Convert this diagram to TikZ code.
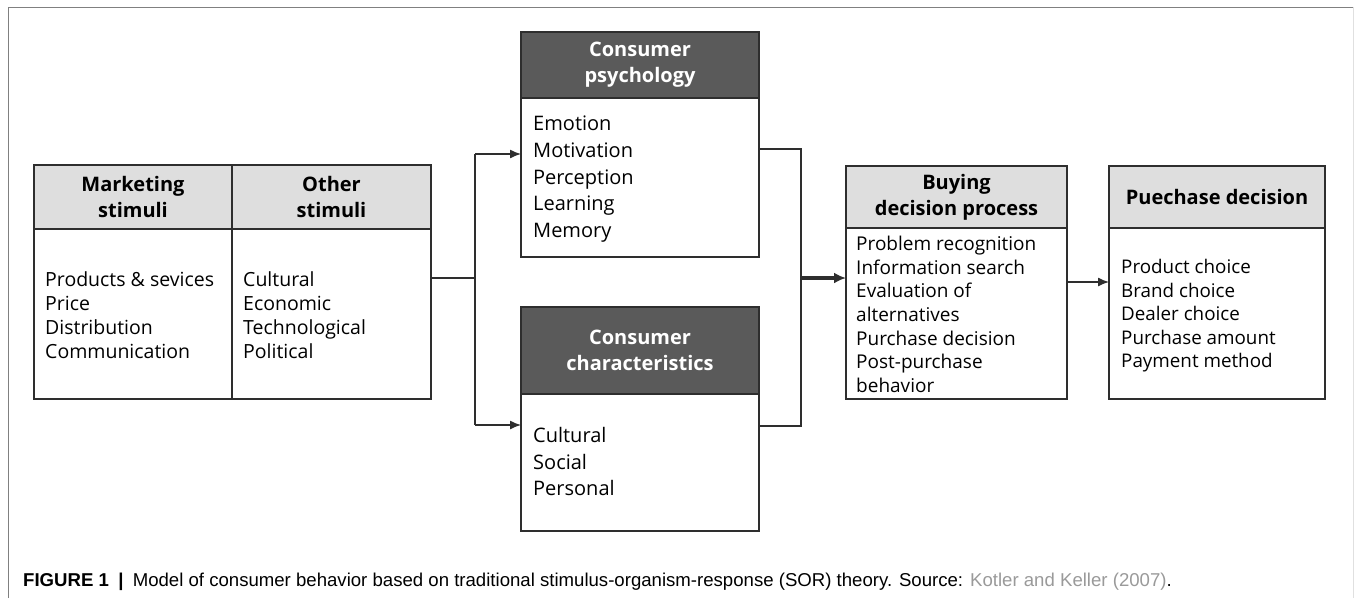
\documentclass[tikz,border=0pt]{standalone}
\usepackage{fontspec}
\setmainfont{Open Sans}
\newfontfamily\capfont{Liberation Sans}
\usetikzlibrary{arrows.meta}
\definecolor{hdrlight}{HTML}{DEDEDE}
\definecolor{hdrdark}{HTML}{5A5A5A}
\definecolor{boxline}{HTML}{2E2E2E}
\definecolor{framegray}{HTML}{808080}
\definecolor{capgray}{HTML}{9A9A9A}
\begin{document}
\begin{tikzpicture}[x=1pt,y=-1pt,
  boxpart/.style={draw=boxline, line width=1.3pt, rectangle, inner sep=0pt, outer sep=0pt, anchor=north west},
  lhead/.style={boxpart, fill=hdrlight, align=center, font=\bfseries\fontsize{20}{26}\selectfont},
  dhead/.style={boxpart, fill=hdrdark, text=white, align=center, font=\bfseries\fontsize{20}{26}\selectfont},
  bodybox/.style={boxpart, fill=white},
  bodytext/.style={anchor=north west, inner sep=0pt, align=left},
  conn/.style={draw=boxline, line width=1.3pt},
  arr/.style={conn, -{Latex[length=11pt,width=9pt]}},
  thickarr/.style={draw=boxline, line width=3.2pt, -{Latex[length=12pt,width=11pt]}}
]
\useasboundingbox (0,0) rectangle (1354,598);
\fill[white] (0,0) rectangle (1354,598);
% frame
\draw[framegray, line width=1pt] (8,598) -- (8,7) -- (1354,7);
\draw[black!12, line width=1pt] (1353,7) -- (1353,598);

% marketing / other stimuli
\node[lhead, minimum width=198pt, minimum height=64pt] (mh) at (34,165) {Marketing\\stimuli};
\node[lhead, minimum width=199pt, minimum height=64pt] (oh) at (232,165) {Other\\stimuli};
\node[bodybox, minimum width=198pt, minimum height=170pt] (mb) at (34,229) {};
\node[bodybox, minimum width=199pt, minimum height=170pt] (ob) at (232,229) {};
\node[bodytext, font=\fontsize{19.5}{24}\selectfont] (mt) at (45,271) {Products \& sevices\\Price\\Distribution\\Communication};
\node[bodytext, font=\fontsize{19.5}{24}\selectfont] (ot) at (243,271) {Cultural\\Economic\\Technological\\Political};

% consumer psychology
\node[dhead, minimum width=238pt, minimum height=66pt] (ph) at (521,32) {Consumer\\psychology};
\node[bodybox, minimum width=238pt, minimum height=159pt] (pb) at (521,98) {};
\node[bodytext, font=\fontsize{20}{26.7}\selectfont] (pt) at (533,116) {Emotion\\Motivation\\Perception\\Learning\\Memory};

% consumer characteristics
\node[dhead, minimum width=238pt, minimum height=87pt] (ch) at (521,307) {Consumer\\characteristics};
\node[bodybox, minimum width=238pt, minimum height=137pt] (cb) at (521,394) {};
\node[bodytext, font=\fontsize{20}{26.7}\selectfont] (ct) at (533,427) {Cultural\\Social\\Personal};

% buying decision process
\node[lhead, minimum width=221pt, minimum height=62pt] (bh) at (846,166) {Buying\\decision process};
\node[bodybox, minimum width=221pt, minimum height=171pt] (bb) at (846,228) {};
\node[bodytext, font=\fontsize{19}{23.6}\selectfont] (bt) at (856,236) {Problem recognition\\Information search\\Evaluation of\\alternatives\\Purchase decision\\Post-purchase\\behavior};

% purchase decision
\node[lhead, minimum width=216pt, minimum height=62pt] (uh) at (1109,166) {Puechase decision};
\node[bodybox, minimum width=216pt, minimum height=171pt] (ub) at (1109,228) {};
\node[bodytext, font=\fontsize{18.8}{23.6}\selectfont] (ut) at (1121,259) {Product choice\\Brand choice\\Dealer choice\\Purchase amount\\Payment method};

% connectors
\coordinate (j1) at (475,278);
\coordinate (j1t) at (475,154);
\coordinate (j1b) at (475,425);
\coordinate (j2t) at (801,149);
\coordinate (j2b) at (801,426);
\coordinate (j2m) at (801,278);
\coordinate (j3) at (1088,282);
\draw[conn] (ob.east |- j1) -- (j1);
\draw[conn] (j1t) -- (j1b);
\draw[arr] (j1t) -- (pb.west |- j1t);
\draw[arr] (j1b) -- (cb.west |- j1b);
\draw[conn] (pb.east |- j2t) -- (j2t) -- (j2b) -- (cb.east |- j2b);
\draw[thickarr] (j2m) -- (bb.west |- j2m);
\draw[arr] (bb.east |- j3) -- (ub.west |- j3);

% caption
\node[anchor=west, inner sep=0pt, font=\capfont\fontsize{18.6}{20}\selectfont] (cap) at (23,582)
  {\textbf{FIGURE 1}\enspace{\bfseries|}\enspace Model of consumer behavior based on traditional stimulus-organism-response (SOR) theory. Source: \textcolor{capgray}{Kotler and Keller (2007)}.};
\end{tikzpicture}
\end{document}
